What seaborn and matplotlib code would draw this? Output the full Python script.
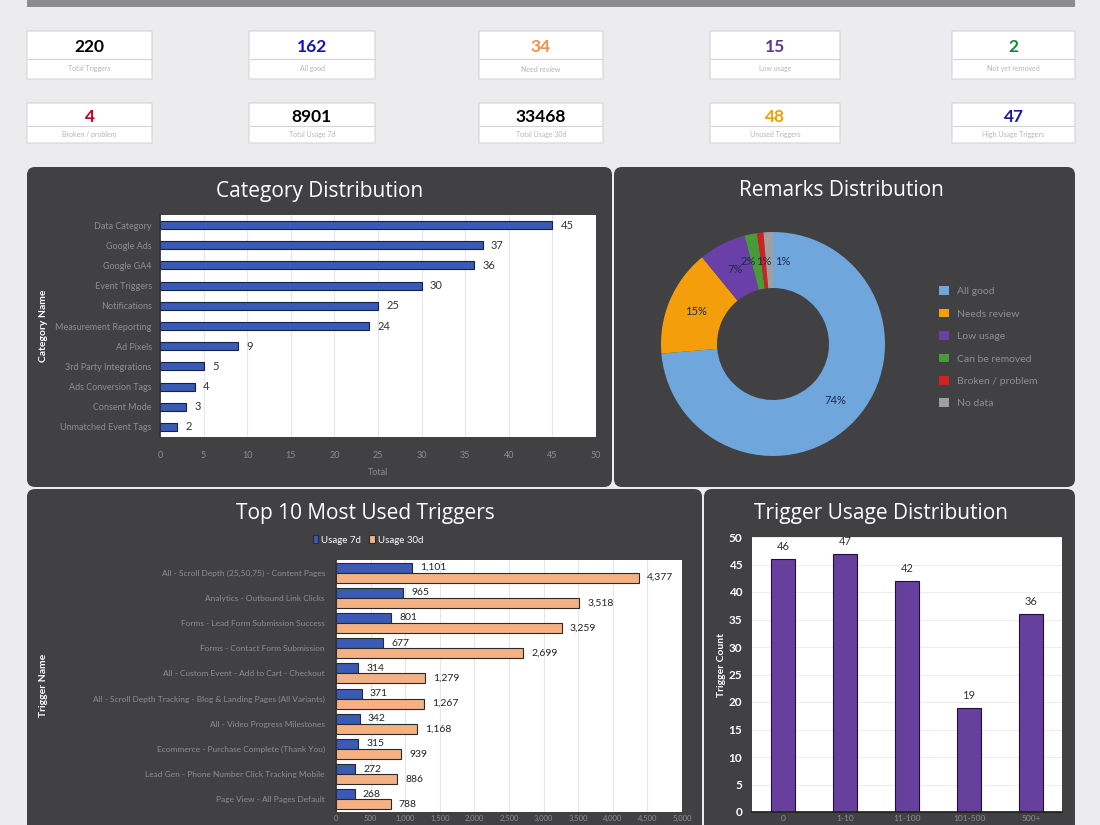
import pandas as pd
import matplotlib
matplotlib.use("Agg")
import matplotlib.pyplot as plt
from matplotlib.patches import FancyBboxPatch, Patch
import seaborn as sns

# KPI cards
kpi_values = [220, 162, 34, 15, 2, 4, 8901, 33468, 48, 47]
kpi_labels = ["Total Triggers", "All good", "Need review", "Low usage", "Not yet removed",
              "Broken / problem", "Total Usage 7d", "Total Usage 30d", "Unused Triggers", "High Usage Triggers"]
kpi_colors = ["#000000", "#1010CC", "#F0904A", "#5B3B8F", "#0E8A3A",
              "#C00020", "#000000", "#000000", "#F0A000", "#1A1A9A"]

# Category Distribution
categories = ["Data Category", "Google Ads", "Google GA4", "Event Triggers", "Notifications",
              "Measurement Reporting", "Ad Pixels", "3rd Party Integrations", "Ads Conversion Tags",
              "Consent Mode", "Unmatched Event Tags"]
category_counts = [45, 37, 36, 30, 25, 24, 9, 5, 4, 3, 2]

# Remarks Distribution
remarks = ["All good", "Needs review", "Low usage", "Can be removed", "Broken / problem", "No data"]
remark_counts = [162, 34, 15, 4, 2, 3]
remark_colors = ["#6FA6DC", "#F59E0B", "#6A3FA8", "#4A9A3A", "#D02020", "#A0A0A0"]

# Top 10 Most Used Triggers
triggers = ["All - Scroll Depth (25,50,75) - Content Pages",
            "Analytics - Outbound Link Clicks",
            "Forms - Lead Form Submission Success",
            "Forms - Contact Form Submission",
            "All - Custom Event - Add to Cart - Checkout",
            "All - Scroll Depth Tracking - Blog & Landing Pages (All Variants)",
            "All - Video Progress Milestones",
            "Ecommerce - Purchase Complete (Thank You)",
            "Lead Gen - Phone Number Click Tracking Mobile",
            "Page View - All Pages Default"]
usage_7d = [1101, 965, 801, 677, 314, 371, 342, 315, 272, 268]
usage_30d = [4377, 3518, 3259, 2699, 1279, 1267, 1168, 939, 886, 788]

# Trigger Usage Distribution
usage_bins = ["0", "1-10", "11-100", "101-500", "500+"]
bin_counts = [46, 47, 42, 19, 36]

W, H = 1100, 825
BG = "#ECEBEE"
PANEL = "#414042"
BLUE = "#3A5BB5"
ORANGE = "#F4B183"
PURPLE = "#673F9C"
FADED = "#8E8D90"

sns.set_theme(style="white")
plt.rcParams["font.family"] = ["Lato", "DejaVu Sans"]

fig = plt.figure(figsize=(11, 8.25), dpi=100, facecolor=BG)


def rect(x0, y0, x1, y1):
    return [x0 / W, 1 - y1 / H, (x1 - x0) / W, (y1 - y0) / H]


def fx(x):
    return x / W


def fy(y):
    return 1 - y / H


def box(x0, y0, x1, y1, color, rounding=0.0, edge="none"):
    p = FancyBboxPatch((x0 / 100, (H - y1) / 100), (x1 - x0) / 100, (y1 - y0) / 100,
                       boxstyle=f"round,pad=0,rounding_size={rounding}",
                       transform=fig.dpi_scale_trans, facecolor=color, edgecolor=edge,
                       linewidth=0.8, zorder=0)
    fig.add_artist(p)


# top banner
box(27, -10, 1075, 7, "#8C8B8E")

# KPI cards
card_x = [(27, 152), (249, 375), (479, 603), (710, 840), (952, 1075)]
card_rows = [(31, 59, 79), (103, 126, 143)]
for i, (val, lab, col) in enumerate(zip(kpi_values, kpi_labels, kpi_colors)):
    r, c = divmod(i, 5)
    x0, x1 = card_x[c]
    y0, ym, y1 = card_rows[r]
    box(x0, y0, x1, y1, "white", edge="#D4D3D6")
    fig.add_artist(plt.Line2D([fx(x0 + 1), fx(x1 - 1)], [fy(ym), fy(ym)], color="#D4D3D6", lw=0.8))
    fig.text(fx((x0 + x1) / 2), fy((y0 + ym) / 2 + 2), f"{val}", color=col, fontsize=12.5,
             fontweight="bold", ha="center", va="center")
    fig.text(fx((x0 + x1) / 2), fy((ym + y1) / 2), lab, color="#B5B4B8", fontsize=5,
             ha="center", va="center")

# panels
box(27, 167, 612, 487, PANEL, rounding=0.08)
box(614, 167, 1075, 487, PANEL, rounding=0.08)
box(27, 489, 702, 840, PANEL, rounding=0.08)
box(704, 489, 1075, 840, PANEL, rounding=0.08)

title_kw = dict(color="white", fontsize=15, ha="center", va="center", family=["Open Sans", "DejaVu Sans"])
fig.text(fx(320), fy(191), "Category Distribution", **title_kw)
fig.text(fx(841), fy(191), "Remarks Distribution", **title_kw)
fig.text(fx(365), fy(513), "Top 10 Most Used Triggers", **title_kw)
fig.text(fx(881), fy(513), "Trigger Usage Distribution", **title_kw)

ylab_kw = dict(color="white", fontsize=7.5, fontweight="bold", rotation=90, ha="center", va="center")
fig.text(fx(43), fy(326), "Category Name", **ylab_kw)
fig.text(fx(43), fy(685), "Trigger Name", **ylab_kw)
fig.text(fx(722), fy(665), "Trigger Count", **ylab_kw)

# ---- Category Distribution
ax1 = fig.add_axes(rect(160, 215, 596, 437))
ax1.set_facecolor("white")
sns.barplot(x=category_counts, y=categories, orient="h", color=BLUE, edgecolor="#15214A",
            linewidth=0.8, width=0.4, saturation=1, ax=ax1)
ax1.set_xlim(0, 50)
ax1.set_xticks(range(0, 51, 5))
ax1.grid(axis="x", color="#E6E6E6", lw=0.8)
ax1.set_axisbelow(True)
ax1.bar_label(ax1.containers[0], padding=6, fontsize=8, color="#333333")
ax1.tick_params(axis="y", colors=FADED, labelsize=6.5, length=0, pad=6)
ax1.tick_params(axis="x", colors=FADED, labelsize=6.5, length=0, pad=10)
ax1.set_xlabel("Total", color=FADED, fontsize=6.5, labelpad=6)
ax1.set_ylabel("")
for s in ax1.spines.values():
    s.set_visible(False)
ax1.spines["left"].set_visible(True)
ax1.spines["left"].set_color("#333333")

# ---- Remarks Distribution (donut)
ax2 = fig.add_axes(rect(661, 232, 885, 456))
wedges, texts, autotexts = ax2.pie(
    remark_counts, colors=remark_colors, startangle=90, counterclock=False,
    autopct="%1.0f%%", pctdistance=0.75,
    wedgeprops=dict(width=0.5, edgecolor="none"),
    textprops=dict(color="#1E2A4A", fontsize=8))
# spread the three small labels near the top so they stay readable
for t, dx in zip(autotexts[3:], [-0.07, 0.0, 0.12]):
    x, y = t.get_position()
    t.set_position((x + dx, 0.74))
ax2.set_xlim(-1, 1)
ax2.set_ylim(-1, 1)
ax2.set_aspect("equal")
handles = [Patch(facecolor=c, edgecolor="none") for c in remark_colors]
fig.legend(handles, remarks, loc="upper left", bbox_to_anchor=(fx(930), fy(277)),
           frameon=False, labelcolor=FADED, fontsize=7.5, handlelength=0.9, handleheight=0.9,
           labelspacing=1.2, handletextpad=0.8)

# ---- Top 10 Most Used Triggers
ax3 = fig.add_axes(rect(336, 560, 682, 812))
ax3.set_facecolor("white")
usage_df = pd.DataFrame({
    "trigger": triggers * 2,
    "usage": usage_7d + usage_30d,
    "period": ["Usage 7d"] * len(triggers) + ["Usage 30d"] * len(triggers),
})
sns.barplot(data=usage_df, x="usage", y="trigger", hue="period", orient="h",
            palette=[BLUE, ORANGE], edgecolor="#2A2A2A", linewidth=0.8, width=0.8,
            saturation=1, ax=ax3)
ax3.set_xlim(0, 5000)
ax3.set_xticks(range(0, 5001, 500))
ax3.set_xticklabels([f"{v:,}" for v in range(0, 5001, 500)])
ax3.grid(axis="x", color="#E6E6E6", lw=0.8)
ax3.set_axisbelow(True)
for cont in ax3.containers:
    ax3.bar_label(cont, labels=[f"{int(b.get_width()):,}" for b in cont], padding=6,
                  fontsize=7.5, color="#222222")
ax3.tick_params(axis="y", colors=FADED, labelsize=6, length=0, pad=8)
ax3.tick_params(axis="x", colors=FADED, labelsize=5.5, length=0, pad=2)
ax3.set_xlabel("")
ax3.set_ylabel("")
for s in ax3.spines.values():
    s.set_visible(False)
ax3.spines["left"].set_visible(True)
ax3.spines["left"].set_color("#333333")
h, l = ax3.get_legend_handles_labels()
ax3.get_legend().remove()
fig.legend(h, l, loc="center", bbox_to_anchor=(fx(368), fy(540)), ncol=2, frameon=False,
           labelcolor="white", fontsize=7, handlelength=0.6, handleheight=0.9,
           handletextpad=0.3, columnspacing=0.8)

# ---- Trigger Usage Distribution
ax4 = fig.add_axes(rect(752, 537, 1062, 812))
ax4.set_facecolor("white")
sns.barplot(x=usage_bins, y=bin_counts, color=PURPLE, edgecolor="#1E1040", linewidth=0.8,
            width=0.4, saturation=1, ax=ax4)
ax4.set_ylim(0, 50)
ax4.set_yticks(range(0, 51, 5))
ax4.grid(axis="y", color="#EDEDED", lw=0.8)
ax4.set_axisbelow(True)
ax4.bar_label(ax4.containers[0], padding=5, fontsize=8, color="#333333")
ax4.tick_params(axis="y", colors="white", labelsize=8.5, length=0, pad=7)
ax4.tick_params(axis="x", colors=FADED, labelsize=6, length=0, pad=2)
for lab in ax4.get_yticklabels():
    lab.set_fontweight("bold")
ax4.set_xlabel("")
ax4.set_ylabel("")
for s in ax4.spines.values():
    s.set_visible(False)
ax4.spines["bottom"].set_visible(True)
ax4.spines["bottom"].set_color("#222222")

fig.savefig("out.png", dpi=100, facecolor=BG)
